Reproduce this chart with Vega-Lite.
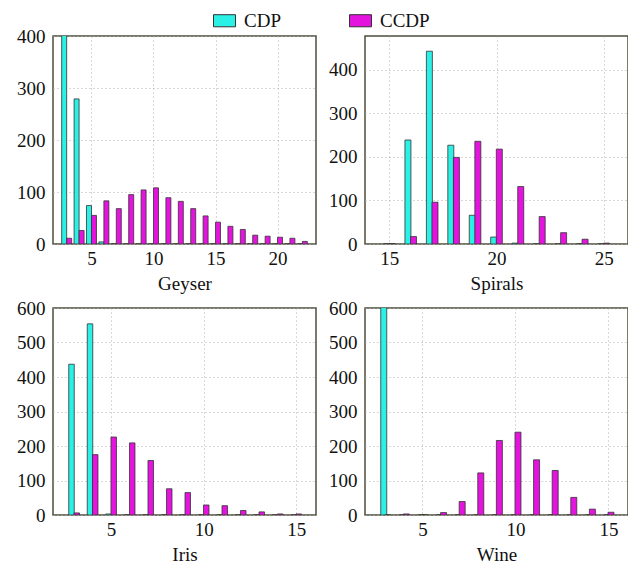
{
  "$schema": "https://vega.github.io/schema/vega-lite/v6.json",
  "background": "white",
  "padding": {"left": 15, "top": 9, "right": 2, "bottom": 2},
  "datasets": {
    "geyser": [
      {"k": 3, "CDP": 520, "CCDP": 11}, {"k": 4, "CDP": 279, "CCDP": 26}, {"k": 5, "CDP": 74, "CCDP": 55},
      {"k": 6, "CDP": 4, "CCDP": 83}, {"k": 7, "CDP": 0, "CCDP": 68}, {"k": 8, "CDP": 0, "CCDP": 95},
      {"k": 9, "CDP": 0, "CCDP": 104}, {"k": 10, "CDP": 0, "CCDP": 108}, {"k": 11, "CDP": 0, "CCDP": 89},
      {"k": 12, "CDP": 0, "CCDP": 82}, {"k": 13, "CDP": 0, "CCDP": 68}, {"k": 14, "CDP": 0, "CCDP": 54},
      {"k": 15, "CDP": 0, "CCDP": 42}, {"k": 16, "CDP": 0, "CCDP": 34}, {"k": 17, "CDP": 0, "CCDP": 28},
      {"k": 18, "CDP": 0, "CCDP": 17}, {"k": 19, "CDP": 0, "CCDP": 15}, {"k": 20, "CDP": 0, "CCDP": 13},
      {"k": 21, "CDP": 0, "CCDP": 11}, {"k": 22, "CDP": 0, "CCDP": 5}
    ],
    "spirals": [
      {"k": 15, "CDP": 0, "CCDP": 1}, {"k": 16, "CDP": 239, "CCDP": 17}, {"k": 17, "CDP": 443, "CCDP": 96},
      {"k": 18, "CDP": 227, "CCDP": 199}, {"k": 19, "CDP": 66, "CCDP": 236}, {"k": 20, "CDP": 16, "CCDP": 218},
      {"k": 21, "CDP": 2, "CCDP": 132}, {"k": 22, "CDP": 0, "CCDP": 63}, {"k": 23, "CDP": 0, "CCDP": 26},
      {"k": 24, "CDP": 0, "CCDP": 11}, {"k": 25, "CDP": 0, "CCDP": 2}
    ],
    "iris": [
      {"k": 3, "CDP": 437, "CCDP": 6}, {"k": 4, "CDP": 554, "CCDP": 175}, {"k": 5, "CDP": 3, "CCDP": 226},
      {"k": 6, "CDP": 0, "CCDP": 209}, {"k": 7, "CDP": 0, "CCDP": 158}, {"k": 8, "CDP": 0, "CCDP": 76},
      {"k": 9, "CDP": 0, "CCDP": 65}, {"k": 10, "CDP": 0, "CCDP": 29}, {"k": 11, "CDP": 0, "CCDP": 27},
      {"k": 12, "CDP": 0, "CCDP": 13}, {"k": 13, "CDP": 0, "CCDP": 9}, {"k": 14, "CDP": 0, "CCDP": 3},
      {"k": 15, "CDP": 0, "CCDP": 3}
    ],
    "wine": [
      {"k": 3, "CDP": 700, "CCDP": 0}, {"k": 4, "CDP": 0, "CCDP": 3}, {"k": 5, "CDP": 0, "CCDP": 0},
      {"k": 6, "CDP": 0, "CCDP": 7}, {"k": 7, "CDP": 0, "CCDP": 39}, {"k": 8, "CDP": 0, "CCDP": 122},
      {"k": 9, "CDP": 0, "CCDP": 216}, {"k": 10, "CDP": 0, "CCDP": 240}, {"k": 11, "CDP": 0, "CCDP": 160},
      {"k": 12, "CDP": 0, "CCDP": 129}, {"k": 13, "CDP": 0, "CCDP": 51}, {"k": 14, "CDP": 0, "CCDP": 17},
      {"k": 15, "CDP": 0, "CCDP": 8}
    ]
  },
  "vconcat": [
    {
      "hconcat": [
        {
          "width": 263, "height": 208,
          "data": {"name": "geyser"},
          "layer": [
            {"mark": {"type": "bar", "size": 5, "xOffset": -2.5, "clip": true, "stroke": "#333", "strokeWidth": 0.8},
             "encoding": {
               "x": {"field": "k", "type": "quantitative", "scale": {"domain": [2.3, 22.7], "nice": false, "zero": false}, "axis": {"values": [5, 10, 15, 20], "title": "Geyser"}},
               "y": {"field": "CDP", "type": "quantitative", "scale": {"domain": [0, 400], "nice": false}, "axis": {"values": [0, 100, 200, 300, 400], "title": null}},
               "color": {"datum": "CDP", "type": "nominal", "scale": {"domain": ["CDP", "CCDP"], "range": ["#2af0e6", "#e414de"]}}
             }},
            {"mark": {"type": "bar", "size": 5, "xOffset": 2.5, "clip": true, "stroke": "#333", "strokeWidth": 0.8},
             "encoding": {
               "x": {"field": "k", "type": "quantitative", "axis": {"values": [5, 10, 15, 20], "title": "Geyser"}},
               "y": {"field": "CCDP", "type": "quantitative", "axis": {"values": [0, 100, 200, 300, 400], "title": null}},
               "color": {"datum": "CCDP", "type": "nominal"}
             }}
          ]
        },
        {
          "width": 263, "height": 208,
          "data": {"name": "spirals"},
          "layer": [
            {"mark": {"type": "bar", "size": 6, "xOffset": -2.8, "clip": true, "stroke": "#333", "strokeWidth": 0.8},
             "encoding": {
               "x": {"field": "k", "type": "quantitative", "scale": {"domain": [14.1, 25.9], "nice": false, "zero": false}, "axis": {"values": [15, 20, 25], "title": "Spirals"}},
               "y": {"field": "CDP", "type": "quantitative", "scale": {"domain": [0, 478], "nice": false}, "axis": {"values": [0, 100, 200, 300, 400], "title": null}},
               "color": {"datum": "CDP", "type": "nominal"}
             }},
            {"mark": {"type": "bar", "size": 6, "xOffset": 2.8, "clip": true, "stroke": "#333", "strokeWidth": 0.8},
             "encoding": {
               "x": {"field": "k", "type": "quantitative", "axis": {"values": [15, 20, 25], "title": "Spirals"}},
               "y": {"field": "CCDP", "type": "quantitative", "axis": {"values": [0, 100, 200, 300, 400], "title": null}},
               "color": {"datum": "CCDP", "type": "nominal"}
             }}
          ]
        }
      ],
      "spacing": 10
    },
    {
      "hconcat": [
        {
          "width": 263, "height": 207,
          "data": {"name": "iris"},
          "layer": [
            {"mark": {"type": "bar", "size": 5.5, "xOffset": -2.6, "clip": true, "stroke": "#333", "strokeWidth": 0.8},
             "encoding": {
               "x": {"field": "k", "type": "quantitative", "scale": {"domain": [2.13, 15.8], "nice": false, "zero": false}, "axis": {"values": [5, 10, 15], "title": "Iris"}},
               "y": {"field": "CDP", "type": "quantitative", "scale": {"domain": [0, 600], "nice": false}, "axis": {"values": [0, 100, 200, 300, 400, 500, 600], "title": null}},
               "color": {"datum": "CDP", "type": "nominal"}
             }},
            {"mark": {"type": "bar", "size": 5.5, "xOffset": 2.6, "clip": true, "stroke": "#333", "strokeWidth": 0.8},
             "encoding": {
               "x": {"field": "k", "type": "quantitative", "axis": {"values": [5, 10, 15], "title": "Iris"}},
               "y": {"field": "CCDP", "type": "quantitative", "axis": {"values": [0, 100, 200, 300, 400, 500, 600], "title": null}},
               "color": {"datum": "CCDP", "type": "nominal"}
             }}
          ]
        },
        {
          "width": 263, "height": 207,
          "data": {"name": "wine"},
          "layer": [
            {"mark": {"type": "bar", "size": 6, "xOffset": -1.5, "clip": true, "stroke": "#333", "strokeWidth": 0.8},
             "encoding": {
               "x": {"field": "k", "type": "quantitative", "scale": {"domain": [2.18, 15.78], "nice": false, "zero": false}, "axis": {"values": [5, 10, 15], "title": "Wine"}},
               "y": {"field": "CDP", "type": "quantitative", "scale": {"domain": [0, 600], "nice": false}, "axis": {"values": [0, 100, 200, 300, 400, 500, 600], "title": null}},
               "color": {"datum": "CDP", "type": "nominal"}
             }},
            {"mark": {"type": "bar", "size": 6, "xOffset": 2.5, "clip": true, "stroke": "#333", "strokeWidth": 0.8},
             "encoding": {
               "x": {"field": "k", "type": "quantitative", "axis": {"values": [5, 10, 15], "title": "Wine"}},
               "y": {"field": "CCDP", "type": "quantitative", "axis": {"values": [0, 100, 200, 300, 400, 500, 600], "title": null}},
               "color": {"datum": "CCDP", "type": "nominal"}
             }}
          ]
        }
      ],
      "spacing": 10
    }
  ],
  "spacing": 4,
  "config": {
    "font": "Liberation Serif",
    "view": {"stroke": "#4d4d3c", "strokeWidth": 1.5},
    "axis": {
      "labelFont": "Liberation Serif", "labelFontSize": 19, "labelColor": "#111", "labelOverlap": false,
      "titleFont": "Liberation Serif", "titleFontSize": 19, "titleFontWeight": "normal", "titleColor": "#111",
      "ticks": false, "domain": false, "grid": true, "gridColor": "#b0b0b0", "gridDash": [1, 3], "gridWidth": 1
    },
    "axisX": {"labelPadding": 5, "titlePadding": 6, "labelFlush": false, "labelFont": "Liberation Serif"},
    "axisY": {"labelPadding": 8, "labelFlush": false, "labelFont": "Liberation Serif"},
    "legend": {
      "orient": "none", "direction": "horizontal", "legendX": 160, "legendY": -27,
      "title": null, "labelFont": "Liberation Serif", "labelFontSize": 19, "labelColor": "#111",
      "symbolType": "M-1,-0.55H1V0.55H-1Z", "symbolSize": 484, "symbolStrokeColor": "#333", "symbolStrokeWidth": 1,
      "columnPadding": 66, "labelOffset": 8
    }
  }
}
